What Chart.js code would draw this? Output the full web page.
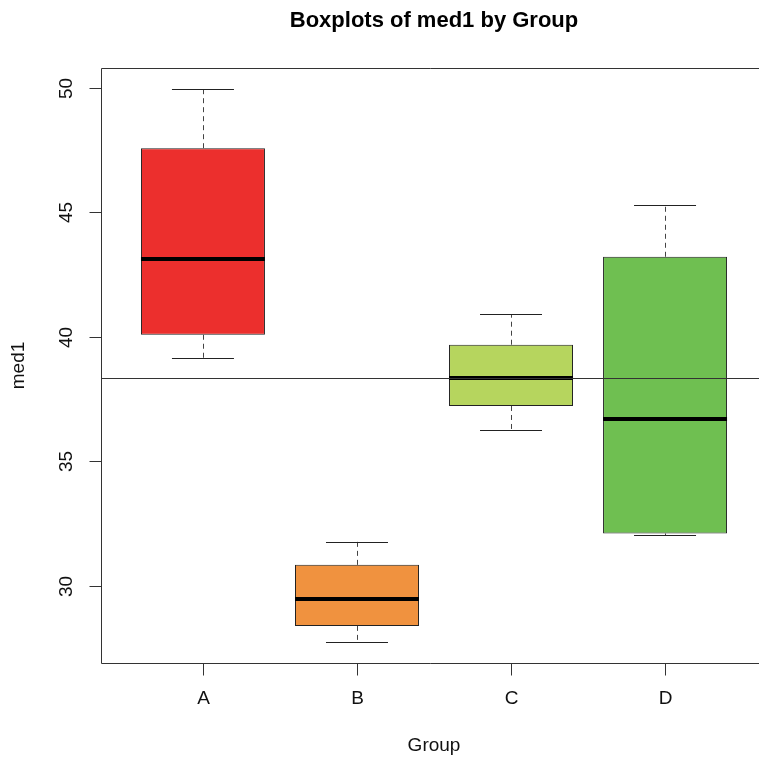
<!DOCTYPE html>
<html>
<head>
<meta charset="utf-8">
<script src="https://cdn.jsdelivr.net/npm/chart.js@4/dist/chart.umd.min.js"></script>
<style>
  html, body { margin: 0; padding: 0; background: #ffffff; }
  #wrap { width: 759px; height: 760px; }
</style>
</head>
<body>
<div id="wrap"><canvas id="c" width="759" height="760"></canvas></div>
<script>
// Five-number summaries of med1 for each group
const groups  = ['A', 'B', 'C', 'D'];
const lowerW  = [39.14, 27.74, 36.27, 32.02];
const q1      = [40.08, 28.39, 37.22, 32.10];
const medians = [43.11, 29.47, 38.34, 36.68];
const q3      = [47.57, 30.84, 39.68, 43.21];
const upperW  = [49.94, 31.77, 40.90, 45.28];
const refLine = 38.34;            // horizontal reference line
const yTicks  = [30, 35, 40, 45, 50];
const fills   = ['#ec2f2d', '#f0923f', '#b6d55e', '#6fbf51'];

const FONT = '"Liberation Sans", Arial, Helvetica, sans-serif';

const boxData = groups.map((g, i) => ({ x: i + 1, y: [q1[i], q3[i]] }));

// Whiskers, medians, reference line, frame, axes and labels
const boxplotExtras = {
  id: 'boxplotExtras',
  afterDatasetsDraw(chart) {
    const { ctx, chartArea: a, scales: { x, y } } = chart;
    const meta = chart.getDatasetMeta(0);
    const px = v => Math.round(v) + 0.5;
    ctx.save();

    meta.data.forEach((bar, i) => {
      const cx = bar.x;
      const half = bar.width / 2;
      const yUp = y.getPixelForValue(upperW[i]);
      const yQ3 = y.getPixelForValue(q3[i]);
      const yQ1 = y.getPixelForValue(q1[i]);
      const yLo = y.getPixelForValue(lowerW[i]);
      const yMed = y.getPixelForValue(medians[i]);

      // dashed whiskers
      ctx.strokeStyle = '#444';
      ctx.lineWidth = 1;
      ctx.setLineDash([5, 4]);
      ctx.beginPath();
      ctx.moveTo(px(cx), yQ3); ctx.lineTo(px(cx), yUp);
      ctx.moveTo(px(cx), yQ1); ctx.lineTo(px(cx), yLo);
      ctx.stroke();
      ctx.setLineDash([]);

      // whisker caps (half box width)
      ctx.strokeStyle = '#222';
      ctx.beginPath();
      ctx.moveTo(cx - half / 2, px(yUp)); ctx.lineTo(cx + half / 2, px(yUp));
      ctx.moveTo(cx - half / 2, px(yLo)); ctx.lineTo(cx + half / 2, px(yLo));
      ctx.stroke();

      // median
      ctx.strokeStyle = '#000';
      ctx.lineWidth = 4;
      ctx.beginPath();
      ctx.moveTo(cx - half, Math.round(yMed)); ctx.lineTo(cx + half, Math.round(yMed));
      ctx.stroke();
    });

    // reference line
    const yRef = px(y.getPixelForValue(refLine));
    ctx.strokeStyle = '#333';
    ctx.lineWidth = 1;
    ctx.beginPath();
    ctx.moveTo(a.left, yRef); ctx.lineTo(a.right, yRef);
    ctx.stroke();

    // frame (left, top, bottom)
    ctx.strokeStyle = '#333';
    ctx.beginPath();
    ctx.moveTo(a.right + 1, px(a.top)); ctx.lineTo(px(a.left), px(a.top));
    ctx.lineTo(px(a.left), px(a.bottom)); ctx.lineTo(a.right + 1, px(a.bottom));
    ctx.stroke();

    // y axis ticks and rotated labels
    ctx.fillStyle = '#111';
    ctx.font = '19px ' + FONT;
    ctx.textAlign = 'center';
    ctx.textBaseline = 'middle';
    yTicks.forEach(t => {
      const ty = px(y.getPixelForValue(t));
      ctx.beginPath();
      ctx.moveTo(px(a.left) - 12, ty); ctx.lineTo(px(a.left), ty);
      ctx.stroke();
      ctx.save();
      ctx.translate(67, ty);
      ctx.rotate(-Math.PI / 2);
      ctx.fillText(String(t), 0, 0);
      ctx.restore();
    });

    // x axis ticks and labels
    groups.forEach((g, i) => {
      const tx = px(x.getPixelForValue(i + 1));
      ctx.beginPath();
      ctx.moveTo(tx, px(a.bottom)); ctx.lineTo(tx, px(a.bottom) + 12);
      ctx.stroke();
      ctx.fillText(g, tx, 699);
    });

    // axis titles
    ctx.fillText('Group', 434, 746);
    ctx.save();
    ctx.translate(19, (a.top + a.bottom) / 2);
    ctx.rotate(-Math.PI / 2);
    ctx.fillText('med1', 0, 0);
    ctx.restore();

    // main title
    ctx.font = 'bold 22px ' + FONT;
    ctx.fillStyle = '#000';
    ctx.fillText('Boxplots of med1 by Group', 434, 21);

    ctx.restore();
  }
};

new Chart(document.getElementById('c'), {
  type: 'bar',
  data: {
    datasets: [{
      data: boxData,
      backgroundColor: fills,
      borderColor: '#222',
      borderWidth: 1,
      borderSkipped: false,
      barPercentage: 0.805,
      categoryPercentage: 1.0
    }]
  },
  options: {
    responsive: false,
    animation: false,
    layout: { padding: { left: 101, top: 68, right: 0, bottom: 97 } },
    plugins: { legend: { display: false }, tooltip: { enabled: false } },
    scales: {
      x: {
        type: 'linear', min: 0.338, max: 4.61, offset: false,
        grid: { offset: false },
        ticks: { stepSize: 1, includeBounds: false },
        display: false
      },
      y: { type: 'linear', min: 26.90, max: 50.79, display: false }
    }
  },
  plugins: [boxplotExtras]
});
</script>
</body>
</html>
